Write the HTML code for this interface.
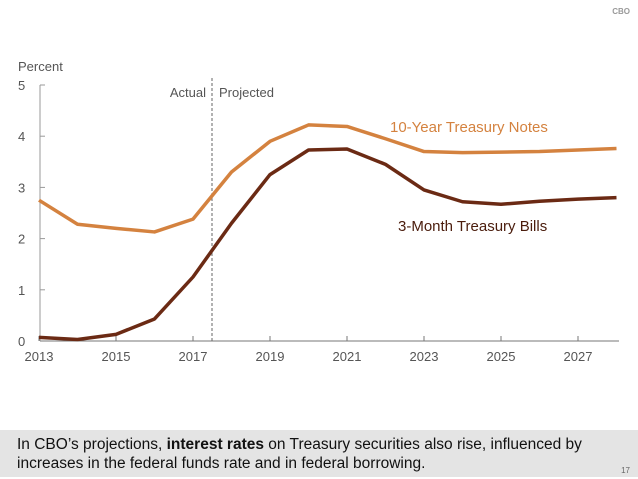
<!DOCTYPE html>
<html><head><meta charset="utf-8"><style>
body{margin:0;width:638px;height:479px;background:#fff;overflow:hidden;font-family:"Liberation Sans",sans-serif;position:relative}
svg{position:absolute;left:0;top:0}
#cap{position:absolute;left:0;top:430px;width:638px;height:47px;background:#e4e4e4}
#cap p{margin:0;position:absolute;left:17px;top:5px;font-size:15.5px;line-height:19px;color:#111}
#pg{position:absolute;right:8px;top:36px;font-size:8px;color:#666}
#cbo{position:absolute;right:8px;top:7px;font-size:8px;font-weight:bold;color:#999}
</style></head><body>
<div id="cbo">CBO</div>
<svg id="chart" width="638" height="430"></svg>
<div id="cap"><p>In CBO’s projections, <b>interest rates</b> on Treasury securities also rise, influenced by<br>increases in the federal funds rate and in federal borrowing.</p><div id="pg">17</div></div>
<script>
const years=[2013,2014,2015,2016,2017,2018,2019,2020,2021,2022,2023,2024,2025,2026,2027,2028];
const tenYear=[2.75,2.28,2.2,2.13,2.38,3.3,3.9,4.22,4.19,3.95,3.7,3.68,3.69,3.7,3.73,3.76];
const threeMonth=[0.07,0.03,0.13,0.43,1.25,2.3,3.25,3.73,3.75,3.45,2.95,2.72,2.67,2.73,2.77,2.8];
const yTicks=[0,1,2,3,4,5];
const xTicks=[2013,2015,2017,2019,2021,2023,2025,2027];
const NS="http://www.w3.org/2000/svg";
const svg=document.getElementById('chart');
const x=v=>39+(v-2013)*38.5;
const y=v=>341-v*51.2;
function mk(t,a,p){const e=document.createElementNS(NS,t);for(const k in a)e.setAttribute(k,a[k]);(p||svg).appendChild(e);return e;}
const txt={fill:'#555','font-family':'"Liberation Sans",sans-serif','font-size':'13'};
let e=mk('text',Object.assign({x:18,y:71},txt));e.textContent='Percent';


e=mk('line',{x1:40,y1:y(5),x2:40,y2:341,stroke:'#999','stroke-width':1});


yTicks.forEach(t=>{
 mk('line',{x1:40,y1:y(t),x2:45,y2:y(t),stroke:'#999'});
 const l=mk('text',Object.assign({x:18,y:y(t)+5},txt));l.textContent=t;
 
 
});
e=mk('line',{x1:40,y1:341,x2:619,y2:341,stroke:'#777','stroke-width':1});


xTicks.forEach(t=>{
 mk('line',{x1:x(t),y1:336,x2:x(t),y2:341,stroke:'#777'});
 const l=mk('text',Object.assign({x:x(t),y:361,'text-anchor':'middle'},txt));l.textContent=t;
 
 
});
e=mk('line',{x1:212,y1:78,x2:212,y2:341,stroke:'#666','stroke-dasharray':'3,2'});


e=mk('text',Object.assign({x:206,y:97,'text-anchor':'end'},txt));e.textContent='Actual';


e=mk('text',Object.assign({x:219,y:97},txt));e.textContent='Projected';


function line(data,col,name){
 const p=mk('polyline',{points:years.map((yr,i)=>x(yr)+','+y(data[i])).join(' '),fill:'none',stroke:col,'stroke-width':3.5,'stroke-linejoin':'round'});
 
 
}
line(tenYear,'#d4823f','ten-year-line');
line(threeMonth,'#6b2a14','three-month-line');
e=mk('text',{x:390,y:132,fill:'#d4823f','font-family':'"Liberation Sans",sans-serif','font-size':'15'});e.textContent='10-Year Treasury Notes';


e=mk('text',{x:398,y:231,fill:'#4a1c0c','font-family':'"Liberation Sans",sans-serif','font-size':'15'});e.textContent='3-Month Treasury Bills';


</script>
</body></html>
